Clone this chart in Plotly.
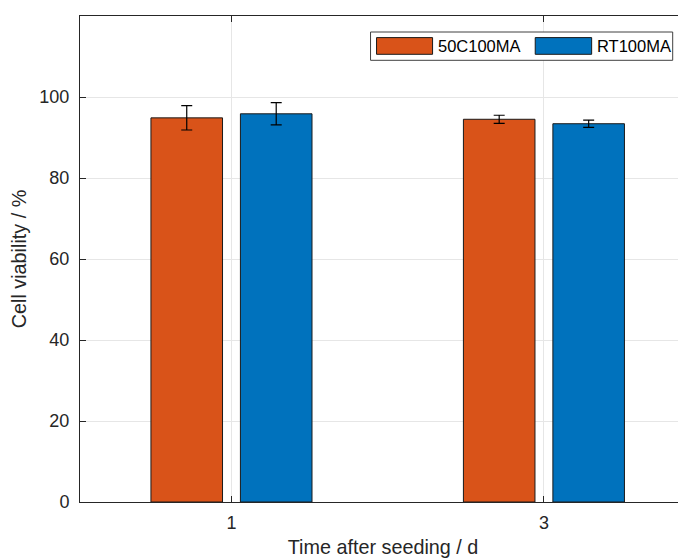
import plotly.graph_objects as go

# ---- data ----
categories = ["1", "3"]
series_names = ["50C100MA", "RT100MA"]
mean_50C = [94.85, 94.5]
err_50C = [3.0, 1.0]
mean_RT = [95.85, 93.4]
err_RT = [2.75, 0.9]
y_ticks = [0, 20, 40, 60, 80, 100]

colors = ["#D95319", "#0072BD"]
FONT = "Liberation Sans, Arial, Helvetica, sans-serif"
TXT = "#262626"

OFF = 8  # default page body margin
W, H = 686 - OFF, 558 - OFF
ML, MT = 80.3 - OFF, 15.7 - OFF
PLOT_BOTTOM = 501.7 - OFF
MB, MR = H - PLOT_BOTTOM, 0
PW, PH = W - ML - MR, H - MT - MB

XUNIT = 312.3          # px per category step in the reference
X1_PX = 231.7          # viewport px of first category
X_LEFT = 1 - (X1_PX - 80.3) / XUNIT
X_RIGHT = X_LEFT + PW / XUNIT


def px(x):
    # viewport pixel -> paper fraction
    return (x - OFF - ML) / PW


def py(y):
    return (OFF + PLOT_BOTTOM - y) / PH


xpos = list(range(1, len(categories) + 1))

fig = go.Figure()
for name, m, e, c in [(series_names[0], mean_50C, err_50C, colors[0]),
                      (series_names[1], mean_RT, err_RT, colors[1])]:
    fig.add_trace(go.Bar(
        x=xpos, y=m, name=name, showlegend=False,
        marker=dict(color=c, line=dict(color="#1a1a1a", width=1)),
        error_y=dict(type="data", array=e, visible=True, color="black",
                     thickness=1.2, width=5.5),
    ))

fig.update_layout(
    width=W, height=H,
    margin=dict(l=ML, r=MR, t=MT, b=MB, autoexpand=False),
    paper_bgcolor="white", plot_bgcolor="white",
    barmode="group", bargap=0.4273, bargroupgap=0.2,
    font=dict(family=FONT, color=TXT, size=18),
)

fig.update_xaxes(
    range=[X_LEFT, X_RIGHT],
    tickmode="array", tickvals=xpos, ticktext=categories,
    ticks="inside", ticklen=6, tickwidth=1, tickcolor=TXT,
    showline=True, linecolor=TXT, linewidth=1, mirror="ticks",
    showgrid=True, gridcolor="#e6e6e6", gridwidth=1,
    zeroline=False,
    tickfont=dict(size=18, color=TXT, family=FONT),
    ticklabelstandoff=4,
    title=dict(text="Time after seeding / d", font=dict(size=19.8, color=TXT, family=FONT), standoff=9),
)
fig.update_yaxes(
    range=[0, 120],
    tickmode="array", tickvals=y_ticks,
    ticks="inside", ticklen=6, tickwidth=1, tickcolor=TXT,
    showline=True, linecolor=TXT, linewidth=1, mirror=False,
    showgrid=True, gridcolor="#e6e6e6", gridwidth=1,
    zeroline=False,
    tickfont=dict(size=18, color=TXT, family=FONT),
    ticklabelstandoff=6,
    title=dict(text="Cell viability / %", font=dict(size=19.8, color=TXT, family=FONT), standoff=12),
)

# ---- manual MATLAB-style legend ----
shapes = [
    dict(type="rect", xref="paper", yref="paper",
         x0=px(370.7), x1=px(672.7), y0=py(60), y1=py(31.7),
         line=dict(color="#404040", width=1), fillcolor="white", layer="above"),
    dict(type="rect", xref="paper", yref="paper",
         x0=px(376.7), x1=px(432.7), y0=py(54), y1=py(37.3),
         line=dict(color="#1a1a1a", width=1), fillcolor=colors[0], layer="above"),
    dict(type="rect", xref="paper", yref="paper",
         x0=px(535.3), x1=px(591.7), y0=py(54), y1=py(37.3),
         line=dict(color="#1a1a1a", width=1), fillcolor=colors[1], layer="above"),
]
annotations = [
    dict(xref="paper", yref="paper", x=px(436.5), y=py(45.7), text=series_names[0],
         showarrow=False, xanchor="left", yanchor="middle",
         font=dict(size=16.5, color="black", family=FONT)),
    dict(xref="paper", yref="paper", x=px(595.5), y=py(45.7), text=series_names[1],
         showarrow=False, xanchor="left", yanchor="middle",
         font=dict(size=16.5, color="black", family=FONT)),
]
fig.update_layout(shapes=shapes, annotations=annotations)

fig.write_html("out.html")
